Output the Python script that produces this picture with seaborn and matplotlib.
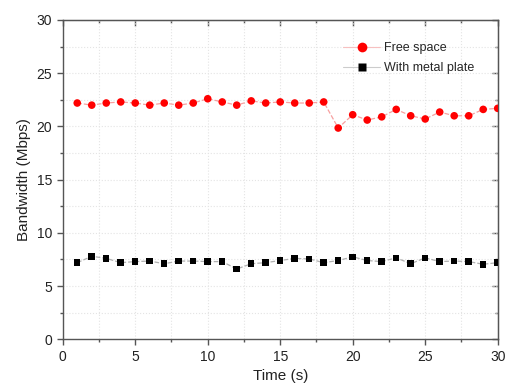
import numpy as np
import pandas as pd
import matplotlib
matplotlib.use("Agg")
import matplotlib.pyplot as plt
import seaborn as sns
from matplotlib.lines import Line2D
from matplotlib.ticker import MultipleLocator

# DATA
time_s = list(range(1, 31))
free_space = [22.2, 22.0, 22.2, 22.3, 22.2, 22.0, 22.2, 22.0, 22.2, 22.6,
              22.3, 22.0, 22.4, 22.2, 22.3, 22.2, 22.2, 22.3, 19.85, 21.1,
              20.6, 20.9, 21.6, 21.0, 20.7, 21.35, 21.0, 21.0, 21.6, 21.7]
metal_plate = [7.2, 7.8, 7.6, 7.2, 7.3, 7.35, 7.1, 7.35, 7.35, 7.3,
               7.3, 6.6, 7.1, 7.2, 7.4, 7.6, 7.55, 7.2, 7.4, 7.75,
               7.4, 7.3, 7.65, 7.1, 7.65, 7.3, 7.35, 7.3, 7.05, 7.2]

df = pd.DataFrame({"Time": time_s, "Free space": free_space, "With metal plate": metal_plate})

sns.set_style("ticks")
plt.rcParams['font.family'] = ['Liberation Sans', 'DejaVu Sans']

fig, ax = plt.subplots(figsize=(5.06, 3.89), dpi=100)
fig.subplots_adjust(left=0.124, right=0.9836, top=0.9486, bottom=0.1278)

# thin connecting lines
sns.lineplot(data=df, x="Time", y="Free space", ax=ax, color='#f7a0a0', lw=0.9, ls='--', zorder=2)
sns.lineplot(data=df, x="Time", y="With metal plate", ax=ax, color='#b0b0b0', lw=0.9, ls='--', zorder=2)
# markers
sns.scatterplot(data=df, x="Time", y="Free space", ax=ax, color='#ff0000', marker='o', s=30,
                edgecolor='none', zorder=3)
sns.scatterplot(data=df, x="Time", y="With metal plate", ax=ax, color='black', marker='s', s=22,
                edgecolor='none', zorder=3)

ax.set_xlim(0, 30)
ax.set_ylim(0, 30)
ax.xaxis.set_major_locator(MultipleLocator(5))
ax.xaxis.set_minor_locator(MultipleLocator(2.5))
ax.yaxis.set_major_locator(MultipleLocator(5))
ax.yaxis.set_minor_locator(MultipleLocator(2.5))
ax.grid(True, which='both', color='#e4e4e4', ls=':', lw=0.8)
ax.set_axisbelow(True)

for sp in ax.spines.values():
    sp.set_visible(True)
    sp.set_color('#555555')
    sp.set_linewidth(1.0)

ax.tick_params(which='major', direction='out', length=4, width=1, color='#555555', labelsize=10, labelcolor='#222222')
ax.tick_params(which='minor', direction='out', length=2.5, width=1, color='#555555')

# inward ticks on the top and right edges
secx = ax.secondary_xaxis('top')
secx.xaxis.set_major_locator(MultipleLocator(5))
secx.xaxis.set_minor_locator(MultipleLocator(2.5))
secx.tick_params(which='major', direction='in', length=4, width=1, color='#555555', labeltop=False)
secx.tick_params(which='minor', direction='in', length=2.5, width=1, color='#555555')
secx.spines['top'].set_color('#555555')
secy = ax.secondary_yaxis('right')
secy.yaxis.set_major_locator(MultipleLocator(5))
secy.yaxis.set_minor_locator(MultipleLocator(2.5))
secy.tick_params(which='major', direction='in', length=4, width=1, color='#555555', labelright=False)
secy.tick_params(which='minor', direction='in', length=2.5, width=1, color='#555555')
secy.spines['right'].set_color('#555555')

ax.set_xlabel("Time (s)", fontsize=11, color='#222222')
ax.set_ylabel("Bandwidth (Mbps)", fontsize=11, color='#222222')

handles = [
    Line2D([0], [0], color='#f7c0c0', lw=0.8, marker='o', markersize=7, markerfacecolor='#ff0000',
           markeredgecolor='none'),
    Line2D([0], [0], color='#cccccc', lw=0.8, marker='s', markersize=5.5, markerfacecolor='black',
           markeredgecolor='none'),
]
ax.legend(handles, ["Free space", "With metal plate"], loc='upper right', frameon=False,
          fontsize=9, bbox_to_anchor=(0.972, 0.965), handlelength=3.0, handletextpad=0.3,
          labelspacing=0.6)

plt.savefig("out.png", dpi=100)
